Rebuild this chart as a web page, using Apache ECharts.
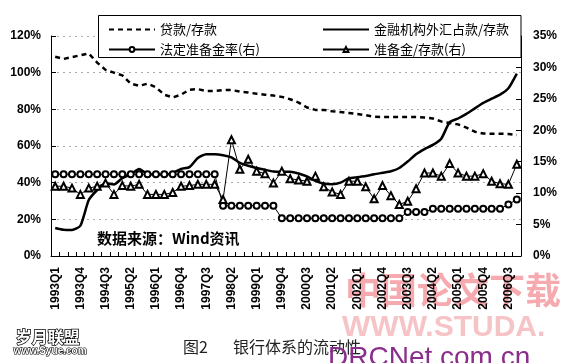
<!DOCTYPE html>
<html>
<head>
<meta charset="utf-8">
<script src="https://cdn.jsdelivr.net/npm/echarts@6/dist/echarts.min.js"></script>
<style>
html,body{margin:0;padding:0;background:#fff;}
#chart{width:570px;height:363px;}
</style>
</head>
<body>
<div id="chart"></div>
<script>
// Quarterly categories 1993Q1 .. 2006Q4
var categories = [
 '1993Q1','1993Q2','1993Q3','1993Q4','1994Q1','1994Q2','1994Q3','1994Q4',
 '1995Q1','1995Q2','1995Q3','1995Q4','1996Q1','1996Q2','1996Q3','1996Q4',
 '1997Q1','1997Q2','1997Q3','1997Q4','1998Q1','1998Q2','1998Q3','1998Q4',
 '1999Q1','1999Q2','1999Q3','1999Q4','2000Q1','2000Q2','2000Q3','2000Q4',
 '2001Q1','2001Q2','2001Q3','2001Q4','2002Q1','2002Q2','2002Q3','2002Q4',
 '2003Q1','2003Q2','2003Q3','2003Q4','2004Q1','2004Q2','2004Q3','2004Q4',
 '2005Q1','2005Q2','2005Q3','2005Q4','2006Q1','2006Q2','2006Q3','2006Q4'
];
// 贷款/存款 (left axis, %)
var loanDeposit = [108.7,107.5,108.5,109.5,110.5,105.5,101.5,100,98.5,94,
 92.8,94,92,88,86.5,88,90.7,91,90,90,
 90.5,90.5,89.7,89.2,88.5,88,87.5,86.8,85.5,83.7,
 81,79.7,79.7,79,78.5,78,77.5,76.8,76,75.8,
 75.8,75.8,75.8,75.8,75.5,75,73.4,72.5,71.8,70,
 67.8,66.8,66.7,66.7,66.5,66];
// 金融机构外汇占款/存款 (left axis, %)
var fxDeposit = [15.3,14.3,14.2,16.5,30.5,36,39.8,39,42.5,44.5,
 47.5,44.8,44.4,44.4,45.3,47.5,48.5,53.5,55.5,55.5,
 55,53.8,50.8,49.2,48,47,46.1,46,46,45,
 43.4,41,39.5,39.2,40,42.4,43,43.6,44.6,45.4,
 46.2,48,51.5,55.5,58.3,60.6,64,73,75,77.5,
 80.5,83.5,85.8,88,91.5,99.5];
// 法定准备金率(右) (%)
var reserveRatio = [13,13,13,13,13,13,13,13,13,13,
 13,13,13,13,13,13,13,13,13,13,
 8,8,8,8,8,8,8,6,6,6,
 6,6,6,6,6,6,6,6,6,6,
 6,6,7,7,7,7.5,7.5,7.5,7.5,7.5,
 7.5,7.5,7.5,7.5,8.2,9];
// 准备金/存款(右) (%)
var reserveDeposit = [11.1,11.1,10.8,9.8,10.8,11.1,11.6,9.8,11.2,11.1,
 11.4,9.8,9.8,9.8,10.1,11.1,11.2,11.4,11.4,11.4,
 9.0,18.5,13.8,15.4,13.5,13.1,11.6,13.5,12.3,12.1,
 11.9,12.7,11.0,10.2,9.8,11.9,11.9,11.0,9.1,11.2,
 9.6,8.2,8.7,10.7,13.2,13.2,12.7,14.7,13.2,12.7,
 12.7,13.1,11.9,11.5,11.4,14.6];

var leftTicks = {min:0, max:120, interval:20};
var rightTicks = {min:0, max:35, interval:5};

var seriesNames = ['贷款/存款','金融机构外汇占款/存款','法定准备金率(右)','准备金/存款(右)'];

var chart = echarts.init(document.getElementById('chart'), null, {renderer:'canvas'});
var axisFont = {color:'#000', fontSize:12, fontWeight:'bold', fontFamily:'Liberation Sans, Arial, sans-serif'};
var legendText = {color:'#000', fontSize:13, fontFamily:'Noto Sans CJK SC, sans-serif'};
var hiddenSym = {color:'rgba(0,0,0,0)', borderColor:'rgba(0,0,0,0)', borderWidth:0, opacity:0};

var option = {
  animation:false,
  backgroundColor:'#fff',
  grid:{left:51, right:49, top:36, bottom:107, containLabel:false},
  legend:[
    {left:103, top:18, orient:'vertical', itemGap:7, itemWidth:46, itemHeight:6,
     textStyle:legendText, z:5,
     data:[{name:seriesNames[0], itemStyle:hiddenSym}, {name:seriesNames[2]}]},
    {left:317, top:18, orient:'vertical', itemGap:7, itemWidth:46, itemHeight:6,
     textStyle:legendText, z:5,
     data:[{name:seriesNames[1], itemStyle:hiddenSym}, {name:seriesNames[3]}]}
  ],
  xAxis:{
    type:'category', data:categories, boundaryGap:true,
    axisLine:{show:true, lineStyle:{color:'#000', width:1}},
    axisTick:{show:true, inside:true, length:4, interval:0, lineStyle:{color:'#000'}},
    axisLabel:{interval:2, rotate:90, margin:11, color:'#000', fontSize:12, fontWeight:'bold',
      fontFamily:'Liberation Sans, Arial, sans-serif'},
    splitLine:{show:false}
  },
  yAxis:[
    {type:'value', min:leftTicks.min, max:leftTicks.max, interval:leftTicks.interval, position:'left',
     axisLine:{show:true, lineStyle:{color:'#000', width:1}},
     axisTick:{show:true, inside:true, length:5, lineStyle:{color:'#000'}},
     axisLabel:Object.assign({formatter:'{value}%', margin:10}, axisFont),
     splitLine:{show:true, lineStyle:{color:'#aaa', type:[2,4], width:1}}},
    {type:'value', min:rightTicks.min, max:rightTicks.max, interval:rightTicks.interval, position:'right',
     axisLine:{show:true, lineStyle:{color:'#000', width:1}},
     axisTick:{show:true, inside:true, length:5, lineStyle:{color:'#000'}},
     axisLabel:Object.assign({formatter:'{value}%', margin:12}, axisFont),
     splitLine:{show:false}}
  ],
  series:[
    {name:seriesNames[0], type:'line', yAxisIndex:0, data:loanDeposit, symbol:'none',
     lineStyle:{color:'#000', width:2.5, type:[5,4]}, itemStyle:{color:'#000'}, z:2},
    {name:seriesNames[1], type:'line', yAxisIndex:0, data:fxDeposit, symbol:'none', smooth:0.2,
     lineStyle:{color:'#000', width:2.5}, itemStyle:{color:'#000'}, z:2},
    {name:seriesNames[2], type:'line', yAxisIndex:1, data:reserveRatio, symbol:'emptyCircle', symbolSize:6,
     showAllSymbol:true,
     lineStyle:{color:'#000', width:1}, itemStyle:{color:'#000', borderColor:'#000', borderWidth:1}, z:3},
    {name:seriesNames[3], type:'line', yAxisIndex:1, data:reserveDeposit, symbol:'emptyTriangle', symbolSize:7,
     showAllSymbol:true,
     lineStyle:{color:'#000', width:1}, itemStyle:{color:'#000', borderColor:'#000', borderWidth:1}, z:3}
  ],
  graphic:{elements:[
    {type:'text', z:-1, left:345, top:272, style:{text:'中国论文下载', fill:'rgba(238,100,110,0.55)',
      font:'bold 36px "Noto Sans CJK SC", sans-serif'}},
    {type:'rect', z:3, shape:{x:98.5, y:15.5, width:422.5, height:42},
     style:{fill:'#fff', stroke:'#000', lineWidth:1}},
    {type:'text', z:4, left:97, top:231, style:{text:'数据来源：Wind资讯', fill:'#000',
      font:'bold 15px "Noto Sans CJK SC", sans-serif'}},
    {type:'text', z:4, left:342, top:313, style:{text:'WWW.STUDA.', fill:'#f6c4c7',
      font:'bold 30px "Liberation Sans", Arial, sans-serif'}},
    {type:'text', z:5, left:183, top:339, style:{text:'图2', fill:'#222',
      font:'16px "Noto Sans CJK SC", serif'}},
    {type:'text', z:5, left:233, top:339, style:{text:'银行体系的流动性', fill:'#222',
      font:'16px "Noto Sans CJK SC", serif'}},
    {type:'text', z:6, left:328, top:344, style:{text:'DRCNet.com.cn', fill:'#8a2d8c',
      font:'28px "Liberation Sans", Arial, sans-serif'}},
    {type:'text', z:6, left:15, top:328, style:{text:'岁月联盟', fill:'#fff', stroke:'#000', lineWidth:1.5,
      font:'bold 16px "Noto Sans CJK SC", sans-serif'}},
    {type:'text', z:6, left:13, top:346, style:{text:'www.Syue.com', fill:'#fff', stroke:'#000', lineWidth:1.2,
      font:'bold 10px "Liberation Sans", Arial, sans-serif'}}
  ]}
};
chart.setOption(option);
</script>
</body>
</html>
